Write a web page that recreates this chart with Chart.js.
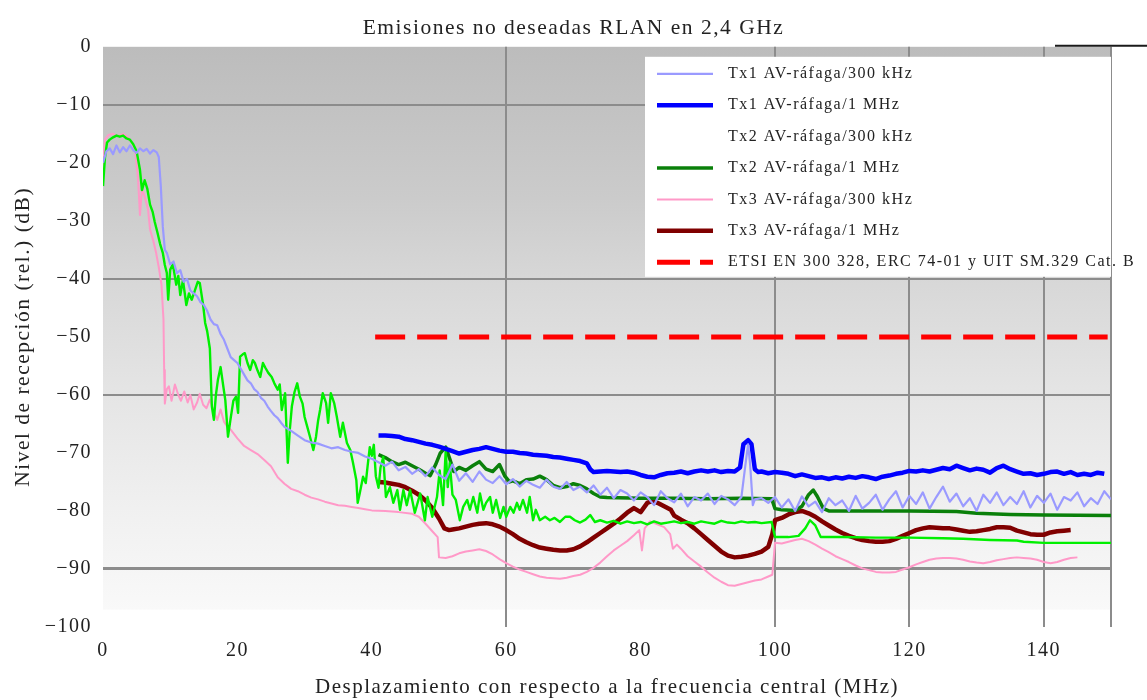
<!DOCTYPE html>
<html>
<head>
<meta charset="utf-8">
<title>Emisiones no deseadas RLAN en 2,4 GHz</title>
<script src="https://cdn.jsdelivr.net/npm/chart.js@4/dist/chart.umd.min.js"></script>
<style>
  html, body { margin: 0; background: #fff; }
  #wrap { width: 1147px; height: 700px; }
</style>
</head>
<body>
<div id="wrap"><canvas id="rlanChart"></canvas></div>
<script>
// axis ticks
const xTickValues = [0, 20, 40, 60, 80, 100, 120, 140, 150];
const xTickLabels = ["0", "20", "40", "60", "80", "100", "120", "140", ""];
const yTickValues = [0, -10, -20, -30, -40, -50, -60, -70, -80, -90, -100];
const yTickLabels = ["0", "\u221210", "\u221220", "\u221230", "\u221240", "\u221250", "\u221260", "\u221270", "\u221280", "\u221290", "\u2212100"];
const xGridShown = [60, 100, 120, 140, 150];
const yGridShown = [-10, -40, -60, -90];

const seriesNames = [
  "Tx1 AV-ráfaga/300 kHz",
  "Tx1 AV-ráfaga/1 MHz",
  "Tx2 AV-ráfaga/300 kHz",
  "Tx2 AV-ráfaga/1 MHz",
  "Tx3 AV-ráfaga/300 kHz",
  "Tx3 AV-ráfaga/1 MHz",
  "ETSI EN 300 328, ERC 74-01 y UIT SM.329 Cat. B"
];

// Tx1 300 kHz
const tx1NarrowX = [0, 0.5, 1, 1.5, 2, 2.5, 3, 3.5, 4, 4.5, 5, 5.5, 6, 6.5, 7, 7.5, 8, 8.3, 8.6, 8.9, 9.2, 9.5, 10, 10.5, 11, 11.5, 12, 12.5, 13, 13.5, 14, 14.5, 15, 15.5, 16, 16.5, 17, 17.5, 18, 18.5, 19, 19.5, 20, 20.5, 21, 21.5, 22, 22.5, 23, 23.5, 24, 24.5, 25, 25.5, 26, 26.5, 27, 28, 29, 30, 31, 32, 33, 34, 35, 36, 37, 38, 39, 40, 41, 42, 43, 44, 45, 46, 47, 48, 49, 50, 51, 52, 53, 54, 55, 56, 57, 58, 59, 60, 61, 62, 63, 64, 65, 66, 67, 68, 69, 70, 71, 72, 73, 74, 75, 76, 77, 78, 79, 80, 81, 82, 83, 84, 85, 86, 87, 88, 89, 90, 91, 92, 93, 94, 95, 95.6, 96, 96.3, 96.7, 97, 98, 99, 100, 101, 102, 103, 104, 105, 106, 107, 108, 109, 110, 111, 112, 113, 114, 115, 116, 117, 118, 119, 120, 121, 122, 123, 124, 125, 126, 127, 128, 129, 130, 131, 132, 133, 134, 135, 136, 137, 138, 139, 140, 141, 142, 143, 144, 145, 146, 147, 148, 149, 150];
const tx1NarrowY = [-20, -18, -17.5, -18.5, -17, -18.2, -17.3, -18, -17, -17.8, -18.3, -17.5, -18, -17.6, -18.4, -17.8, -18.2, -19, -24, -31, -35, -35.5, -37.5, -37, -39, -38.5, -40.5, -40, -42, -42.5, -43, -44, -44.5, -45.5, -47, -47.8, -48, -49.5, -50.5, -52, -53.5, -54, -54.5, -55.5, -56.5, -57.5, -58, -59, -59.5, -60.5, -61, -62, -62.8, -63.5, -64, -64.8, -65.5, -66.2, -67, -67.8, -68.2, -68.4, -68.8, -69.2, -69, -69.5, -69.8, -70, -70.6, -71, -71.6, -72.2, -71.5, -73, -72.4, -73.6, -72.8, -74, -72.5, -73.8, -74.5, -72, -74.8, -73.5, -75, -73.2, -74.6, -75.2, -74, -75.4, -74.5, -75.8, -74.8, -75.5, -76, -74.6, -75.8, -76.2, -75, -76.4, -75.8, -76.8, -75.6, -77.2, -76, -77.8, -76.4, -77, -78.2, -76.8, -77.6, -79, -76.6, -77.8, -78.5, -77, -79.2, -77.6, -78.2, -77, -78.8, -77.4, -78, -79, -77.6, -72, -68.5, -72, -79, -78, -77.8, -78.6, -77.6, -79.4, -78, -80, -77.5, -79.2, -78.4, -80.2, -77.8, -79, -78.2, -80, -77.4, -79.6, -78.6, -77.2, -79.8, -78, -76.6, -79.4, -77.4, -78.8, -76.8, -79.6, -77.6, -75.8, -78.4, -77, -79.2, -77.8, -80, -77.2, -78.6, -76.8, -79, -77.6, -78.8, -76.6, -79.4, -77.4, -78.6, -77, -79.8, -77.6, -78.2, -76.8, -79.2, -77.8, -78.8, -76.6, -78];

// Tx1 1 MHz
const tx1WideX = [41, 42, 43, 44, 45, 46, 47, 48, 49, 50, 51, 52, 53, 54, 55, 56, 57, 58, 59, 60, 61, 62, 63, 64, 65, 66, 67, 68, 69, 70, 71, 72, 72.5, 73, 74, 75, 76, 77, 78, 79, 80, 81, 82, 83, 84, 85, 86, 87, 88, 89, 90, 91, 92, 93, 94, 94.8, 95.3, 96, 96.5, 97, 97.5, 98, 99, 100, 101, 102, 103, 104, 105, 106, 107, 108, 109, 110, 111, 112, 113, 114, 115, 116, 117, 118, 119, 120, 121, 122, 123, 124, 125, 126, 127, 128, 129, 130, 131, 132, 133, 134, 135, 136, 137, 138, 139, 140, 141, 142, 143, 144, 145, 146, 147, 148, 149];
const tx1WideY = [-67, -67, -67.1, -67.2, -67.6, -67.8, -68.1, -68.4, -68.6, -68.9, -69.3, -69.7, -70.1, -69.8, -69.5, -69.3, -69, -69.3, -69.6, -69.8, -69.8, -70, -70.1, -70.3, -70.4, -70.5, -70.7, -70.8, -71, -71.2, -71.4, -71.8, -72.8, -73.3, -73.2, -73.1, -73.2, -73.3, -73.2, -73.4, -73.8, -74.1, -74.2, -73.8, -73.5, -73.4, -73.2, -73.5, -73.2, -73, -73.2, -73, -73.3, -73.1, -73.2, -72.5, -68.5, -67.8, -68.5, -72.8, -73.3, -73.2, -73.5, -73.3, -73.4, -73.6, -74, -73.7, -74, -74.3, -74.2, -74.5, -74.2, -74.4, -74.1, -74.3, -74, -74.2, -74.5, -74.1, -73.9, -73.6, -73.4, -73.1, -73.2, -73, -73.2, -72.9, -72.6, -72.8, -72.2, -72.6, -73, -72.7, -72.9, -73.4, -72.6, -72.2, -72.8, -73.2, -73.6, -73.5, -73.8, -73.6, -73.3, -73.2, -73.6, -73.3, -73.8, -73.6, -73.8, -73.4, -73.6];

// Tx2 300 kHz
const tx2NarrowX = [0, 0.3, 0.6, 1, 1.5, 2, 2.5, 3, 3.5, 4, 4.5, 5, 5.5, 5.8, 6.2, 6.6, 7, 7.4, 7.7, 8.1, 8.5, 8.9, 9.2, 9.5, 9.7, 10, 10.4, 10.9, 11.2, 11.5, 11.9, 12.4, 12.8, 13.2, 13.7, 14.1, 14.4, 14.9, 15.2, 15.5, 15.9, 16.2, 16.5, 16.8, 17.1, 17.5, 17.9, 18.2, 18.6, 19, 19.4, 19.8, 20.1, 20.4, 20.8, 21.1, 21.5, 21.9, 22.3, 22.6, 23, 23.4, 23.8, 24.2, 24.6, 25.1, 25.5, 26, 26.3, 26.6, 27.1, 27.5, 27.8, 28.1, 28.5, 28.9, 29.3, 29.7, 30, 30.4, 30.8, 31.3, 31.7, 32, 32.3, 32.7, 33.2, 33.5, 33.9, 34.4, 34.8, 35.3, 35.7, 36.3, 36.8, 37.2, 37.7, 37.9, 38.2, 38.7, 39.1, 39.4, 39.7, 40, 40.3, 40.6, 41, 41.3, 41.7, 42.1, 42.7, 43.2, 43.8, 44.2, 44.7, 45.2, 45.7, 46.4, 47.2, 47.9, 48.3, 49, 49.7, 50.1, 50.6, 51, 51.3, 51.6, 52, 52.5, 53.1, 53.6, 54.2, 54.6, 55.1, 55.7, 56.1, 56.6, 57, 57.6, 58, 58.5, 59.1, 59.6, 60, 60.6, 61.1, 61.6, 62, 62.5, 63.1, 63.5, 64, 64.4, 65, 65.8, 66.5, 67.2, 68, 68.8, 69.5, 70.2, 71, 71.8, 72.5, 73.2, 74, 75, 76, 77, 78, 79, 80, 81, 82, 83, 84, 85, 86, 87, 88, 89, 90, 91, 92, 93, 94, 95, 96, 97, 98, 99.5, 100, 102, 103.5, 104.5, 105.2, 106, 106.8, 110, 115, 120, 125, 128, 132, 136, 137, 140, 145, 150];
const tx2NarrowY = [-24, -19, -16.5, -16, -15.6, -15.3, -15.5, -15.3, -15.8, -16, -16.8, -18, -21.2, -24.7, -23, -24.5, -27.2, -28.5, -30.2, -32, -34, -35.5, -37.6, -39, -43.6, -38.4, -37.5, -41, -39.5, -42.8, -40.2, -44.5, -42.5, -43.6, -41.9, -40.5, -40.7, -44.5, -47.6, -49, -52, -62, -64.3, -60, -57.4, -55.2, -58.5, -60.9, -67.2, -64, -61, -60.3, -63.1, -53.4, -53, -52.8, -54.5, -55.7, -54, -54.5, -55.8, -56.9, -54.5, -55.4, -56.2, -56.9, -58, -59.1, -58.2, -62.6, -59.7, -71.7, -66, -62, -59.5, -58, -60.3, -61.5, -63.8, -65.5, -67.2, -69.5, -67.2, -64.5, -62.6, -59.7, -61.4, -64.8, -59.7, -61.4, -63.8, -67.2, -64.8, -68.3, -69.5, -71.7, -74.7, -78.6, -77, -74.1, -75.2, -72, -69, -70.5, -68.6, -74, -76, -72.5, -70.7, -77.6, -75.9, -78.6, -76.4, -79.8, -76.4, -79, -76.4, -80.3, -77, -81.6, -77.6, -81, -77.6, -73, -79, -69.5, -75.9, -71.7, -77.2, -78.1, -81.6, -79.3, -78.1, -79.8, -77.6, -80.3, -77, -79.8, -78.6, -77.6, -80.3, -78.1, -81.2, -79.3, -81, -79.3, -80.3, -78.6, -79.8, -78.1, -80.3, -77.6, -81.6, -79.8, -81.6, -81, -81.6, -81.2, -81.9, -81, -81, -81.6, -82, -81.5, -80.7, -81.9, -81.6, -82, -81.7, -82.2, -81.8, -82.1, -81.9, -82.3, -81.8, -82.2, -82, -81.8, -82.1, -81.9, -82.2, -81.8, -82, -82.2, -81.7, -82, -82.1, -81.8, -82, -81.9, -82.1, -81.9, -84.5, -84.5, -84.3, -83, -81.6, -82.5, -84.5, -84.5, -84.6, -84.6, -84.7, -84.8, -85, -85.1, -85.3, -85.5, -85.5, -85.5];

// Tx2 1 MHz
const tx2WideX = [41, 42, 43, 44, 45, 46, 47, 48, 48.7, 49.5, 50.2, 51, 51.6, 52.2, 53, 54, 55, 56, 57, 58, 59, 59.8, 60.5, 61, 62, 63, 64, 65, 66, 67, 68, 69, 70, 71, 72, 73, 74, 75, 80, 85, 90, 95, 99.5, 100, 101, 103, 104, 105, 105.7, 106.3, 107.2, 108, 115, 120, 127, 130, 135, 140, 150];
const tx2WideY = [-70.3, -70.8, -71.5, -72, -71.6, -72.2, -72.8, -73.5, -73.9, -72, -70, -69, -71, -73.2, -72.5, -73, -72.2, -71.5, -72.8, -73.2, -72, -74, -75, -74.8, -75.3, -74.6, -74.5, -74, -74.6, -75.6, -76, -75.8, -75.3, -75.6, -76.2, -77, -77.6, -77.7, -77.8, -77.8, -77.9, -77.8, -77.9, -79.6, -79.8, -79.9, -79.2, -77.2, -76.4, -77.5, -79.6, -80, -80, -80, -80.1, -80.4, -80.6, -80.7, -80.8];

// Tx3 300 kHz
const tx3NarrowX = [0, 0.3, 0.8, 1.5, 2.2, 3, 3.7, 4.3, 4.8, 5.2, 5.5, 5.8, 6.2, 6.7, 7, 7.5, 7.9, 8.3, 8.7, 9, 9.1, 9.2, 9.5, 9.8, 10.2, 10.7, 11.2, 11.6, 12.1, 12.6, 13, 13.5, 14, 14.4, 14.9, 15.4, 15.9, 16.4, 17, 17.5, 18, 18.5, 19, 20, 21, 22, 23, 24, 25, 26, 27, 28, 29, 30, 31, 32, 33, 34, 35, 36, 37, 38, 39, 40, 42, 44, 46, 47, 48, 49, 49.8, 50, 51, 52, 53, 54, 55, 56, 57, 58, 59, 60, 61, 62, 63, 64, 65, 66, 67, 68, 69, 70, 71, 72, 73, 74, 75, 76, 77, 78, 79, 79.8, 80.2, 80.6, 81.4, 82.5, 83.5, 84.4, 84.8, 85.4, 86, 87, 88, 89, 90, 91, 92, 93, 94, 95, 96, 97, 98, 99, 99.6, 100, 101, 102, 103, 104, 105, 106, 107, 108, 109, 110, 111, 112, 113, 114, 115, 116, 117, 118, 119, 120, 121, 122, 123, 124, 125, 126, 127, 128, 129, 130, 131, 132, 133, 134, 135, 136, 137, 138, 139, 140, 141, 142, 143, 144, 145];
const tx3NarrowY = [-20.5, -16, -15.2, -15, -15.4, -15, -15.6, -16.5, -18, -22.5, -29, -24.5, -25.8, -28, -31.5, -33.5, -35.5, -38, -41, -47, -55.7, -61.5, -59, -58.5, -61, -58.2, -60, -61, -59.4, -61.3, -60, -62.5, -61.3, -59.8, -61.7, -62.3, -60.8, -62.6, -64.3, -62.5, -64.6, -65.5, -66, -67.5, -68.8, -69.5, -70.2, -71.2, -72.3, -74.2, -75.3, -76.2, -76.6, -77.2, -77.7, -78, -78.4, -78.7, -79, -79.1, -79.3, -79.5, -79.7, -79.9, -80, -80.2, -80.5, -81, -82.2, -83.5, -84.5, -88, -88.1, -87.8, -87.3, -87, -86.8, -86.6, -86.9, -87.5, -88.3, -89, -89.6, -90.1, -90.5, -90.9, -91.3, -91.5, -91.6, -91.7, -91.5, -91.2, -91, -90.5, -89.8, -88.9, -87.8, -86.8, -86, -85.2, -84.2, -83.3, -86.8, -83, -81.8, -82.3, -82.8, -84, -86.5, -85.8, -86.5, -87.8, -88.7, -89.6, -90.6, -91.5, -92.2, -92.8, -92.9, -92.6, -92.3, -92, -91.8, -91.3, -91, -85.5, -85.6, -85.3, -85, -84.8, -85.2, -85.8, -86.5, -87.1, -87.8, -88.3, -88.8, -89.4, -89.9, -90.2, -90.5, -90.6, -90.6, -90.5, -90.1, -89.7, -89.2, -88.8, -88.4, -88.2, -88.1, -88.1, -88.2, -88.4, -88.7, -88.9, -89, -88.8, -88.5, -88.3, -88.1, -88, -88.1, -88.2, -88.4, -88.8, -89, -88.8, -88.4, -88.1, -88];

// Tx3 1 MHz
const tx3WideX = [41, 42, 43, 44, 45, 46, 47, 48, 49, 50, 50.8, 51.5, 52, 53, 54, 55, 56, 57, 58, 59, 60, 61, 62, 63, 64, 65, 66, 67, 68, 69, 70, 71, 72, 73, 74, 75, 76, 77, 78, 79, 80, 81, 81.6, 82.5, 83.5, 84.5, 85, 86, 87, 88, 89, 90, 91, 92, 93, 94, 95, 96, 97, 98, 99, 99.6, 100, 101, 102, 103, 104, 105, 106, 107, 108, 109, 110, 111, 112, 113, 114, 115, 116, 117, 118, 119, 120, 121, 122, 123, 124, 125, 126, 127, 128, 129, 130, 131, 132, 133, 134, 135, 136, 137, 138, 139, 140, 141, 142, 143, 144];
const tx3WideY = [-75, -75.1, -75.3, -75.5, -75.9, -76.5, -77.2, -78.2, -79.5, -81.3, -83, -83.3, -83.2, -83, -82.7, -82.4, -82.2, -82.1, -82.3, -82.7, -83.3, -84, -84.8, -85.4, -85.9, -86.3, -86.5, -86.7, -86.8, -86.8, -86.6, -86.1, -85.4, -84.6, -83.8, -83, -82.2, -81.3, -80.3, -79.5, -80.2, -78.6, -78.3, -78.6, -79.2, -79.8, -80.8, -81.5, -82.1, -83, -84, -85, -86, -87, -87.7, -88, -87.9, -87.7, -87.4, -87, -86.2, -84, -81.6, -81.2, -80.6, -80.2, -80, -80.4, -81, -81.8, -82.5, -83.2, -83.8, -84.3, -84.7, -85, -85.2, -85.3, -85.3, -85.2, -84.8, -84.3, -83.8, -83.3, -83, -82.8, -82.9, -83, -83, -83.2, -83.4, -83.6, -83.5, -83.3, -83.1, -82.8, -82.8, -82.9, -83.4, -83.7, -84, -84.1, -84.1, -83.7, -83.5, -83.4, -83.3];

// limit line
const limitX = [40.5, 149.5];
const limitY = [-50, -50];

const toPoints = (xs, ys) => xs.map((x, i) => ({ x: x, y: ys[i] }));

const serif = "'Liberation Serif', 'Times New Roman', serif";

function series(i, xs, ys, color, width, extra) {
  return Object.assign({
    label: seriesNames[i],
    data: toPoints(xs, ys),
    borderColor: color,
    backgroundColor: color,
    borderWidth: width,
    pointRadius: 0,
    tension: 0,
    fill: false,
    borderJoinStyle: "round",
    borderCapStyle: "butt"
  }, extra || {});
}

const datasets = [
  series(0, tx1NarrowX, tx1NarrowY, "#9a9aff", 2.2),
  series(1, tx1WideX, tx1WideY, "#0000ff", 4.5),
  series(2, tx2NarrowX, tx2NarrowY, "#00f000", 2.4, { noLegendLine: true }),
  series(3, tx2WideX, tx2WideY, "#0a800a", 3.5),
  series(4, tx3NarrowX, tx3NarrowY, "#ff99c8", 2),
  series(5, tx3WideX, tx3WideY, "#800000", 4.5),
  series(6, limitX, limitY, "#ff0000", 5, { borderDash: [30, 12] })
];

// gradient plot background + text spacing
const plotBackground = {
  id: "plotBackground",
  beforeLayout(chart) { chart.ctx.letterSpacing = "1.5px"; },
  beforeDraw(chart) {
    const { ctx, chartArea: a } = chart;
    ctx.letterSpacing = "1.5px";
    const yEnd = chart.scales.y.getPixelForValue(-97);
    const g = ctx.createLinearGradient(0, a.top, 0, yEnd);
    g.addColorStop(0, "#bcbcbc");
    g.addColorStop(0.27, "#cbcbcb");
    g.addColorStop(0.41, "#d7d7d7");
    g.addColorStop(0.62, "#e5e5e5");
    g.addColorStop(0.82, "#f0f0f0");
    g.addColorStop(1, "#f9f9f9");
    ctx.save();
    ctx.fillStyle = g;
    ctx.fillRect(a.left, a.top, a.right - a.left, yEnd - a.top);
    ctx.restore();
  }
};

// legend in a white box inside the plot, top right
const boxLegend = {
  id: "boxLegend",
  afterDraw(chart) {
    const { ctx, chartArea: a } = chart;
    const left = a.right - 466;
    const top = a.top + 10;
    ctx.save();
    ctx.fillStyle = "#ffffff";
    ctx.fillRect(left, top, 466, 220);
    chart.data.datasets.forEach((ds, i) => {
      const y = top + 17 + i * 31.4;
      if (!ds.noLegendLine) {
        ctx.beginPath();
        ctx.strokeStyle = ds.borderColor;
        ctx.lineWidth = ds.borderWidth;
        ctx.setLineDash(ds.borderDash ? [33, 10] : []);
        ctx.moveTo(left + 12, y);
        ctx.lineTo(left + 68, y);
        ctx.stroke();
      }
      ctx.setLineDash([]);
      ctx.fillStyle = "#222";
      ctx.font = "16px " + serif;
      ctx.textBaseline = "middle";
      ctx.textAlign = "left";
      ctx.fillText(ds.label, left + 83, y);
    });
    // short dark rule at the top right corner
    ctx.beginPath();
    ctx.strokeStyle = "#1a1a1a";
    ctx.lineWidth = 2;
    ctx.moveTo(a.right - 56, a.top - 1);
    ctx.lineTo(chart.width, a.top - 1);
    ctx.stroke();
    ctx.restore();
  }
};

const ctx = document.getElementById("rlanChart").getContext("2d");

new Chart(ctx, {
  type: "line",
  data: { datasets: datasets },
  options: {
    responsive: true,
    maintainAspectRatio: false,
    animation: false,
    layout: { padding: 0 },
    plugins: {
      legend: { display: false },
      tooltip: { enabled: false },
      title: {
        display: true,
        text: "Emisiones no deseadas RLAN en 2,4 GHz",
        color: "#222",
        font: { family: serif, size: 21.5, weight: "normal" },
        padding: { top: 15, bottom: 6 }
      }
    },
    scales: {
      x: {
        type: "linear",
        min: 0,
        max: 150,
        afterBuildTicks: (s) => { s.ticks = xTickValues.map((v) => ({ value: v })); },
        afterFit: (s) => { s.height = 73; },
        ticks: {
          color: "#222",
          padding: 12,
          maxRotation: 0,
          autoSkip: false,
          font: { family: serif, size: 20 },
          callback: (v) => xTickLabels[xTickValues.indexOf(v)]
        },
        grid: {
          drawTicks: false,
          color: (c) => (c.tick && xGridShown.includes(c.tick.value) ? "#8c8c8c" : "rgba(0,0,0,0)"),
          lineWidth: 2
        },
        border: { display: false },
        title: {
          display: true,
          text: "Desplazamiento con respecto a la frecuencia central (MHz)",
          color: "#222",
          font: { family: serif, size: 21 },
          padding: { top: 0, bottom: 0 }
        }
      },
      y: {
        type: "linear",
        min: -100,
        max: 0,
        afterBuildTicks: (s) => { s.ticks = yTickValues.map((v) => ({ value: v })); },
        afterFit: (s) => { s.width = 103; },
        ticks: {
          color: "#222",
          padding: 11,
          autoSkip: false,
          font: { family: serif, size: 20 },
          callback: (v) => yTickLabels[yTickValues.indexOf(v)]
        },
        grid: {
          drawTicks: false,
          color: (c) => (c.tick && yGridShown.includes(c.tick.value) ? "#8c8c8c" : "rgba(0,0,0,0)"),
          lineWidth: (c) => (c.tick && c.tick.value === -90 ? 3 : 2)
        },
        border: { display: false },
        title: {
          display: true,
          text: "Nivel de recepción (rel.) (dB)",
          color: "#222",
          font: { family: serif, size: 21.5 },
          padding: { top: 10, bottom: 10 }
        }
      },
      // empty strip on the right, keeps the title centred on the page
      yRight: {
        type: "linear",
        position: "right",
        min: -100,
        max: 0,
        afterFit: (s) => { s.width = 36; },
        ticks: { display: false },
        grid: { display: false },
        border: { display: false }
      }
    }
  },
  plugins: [plotBackground, boxLegend]
});
</script>
</body>
</html>
